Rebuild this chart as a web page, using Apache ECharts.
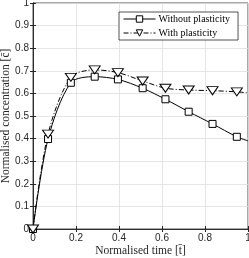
<!DOCTYPE html>
<html><head><meta charset="utf-8">
<script src="https://cdn.jsdelivr.net/npm/echarts@6/dist/echarts.min.js"></script>
<style>html,body{margin:0;padding:0;background:#fff}#c{width:249px;height:258px}</style>
</head><body><div id="c"></div>
<script>
const timeWithout = [0, 0.07, 0.176, 0.287, 0.395, 0.51, 0.616, 0.724, 0.835, 0.948, 1.0];
const concWithout = [0, 0.398, 0.647, 0.674, 0.662, 0.623, 0.574, 0.519, 0.465, 0.408, 0.39];
const timeWith = [0, 0.07, 0.176, 0.287, 0.395, 0.51, 0.616, 0.724, 0.835, 0.948, 1.0];
const concWith = [0, 0.42, 0.671, 0.704, 0.692, 0.655, 0.623, 0.615, 0.612, 0.607, 0.602];
const seriesNames = ['Without plasticity', 'With plasticity'];
const xTicks = [0, 0.2, 0.4, 0.6, 0.8, 1];
const yTicks = [0, 0.1, 0.2, 0.3, 0.4, 0.5, 0.6, 0.7, 0.8, 0.9, 1];

function pts(xs, ys) {
  return xs.map((x, i) => ({ value: [x, ys[i]], symbol: i === xs.length - 1 ? 'none' : undefined }));
}
const axisCol = '#262626';
const chart = echarts.init(document.getElementById('c'));
const labelStyle = { color: axisCol, fontFamily: 'Liberation Sans', fontSize: 10 };
const nameStyle = { fontFamily: 'Liberation Serif', fontSize: 11.5, color: axisCol };
chart.setOption({
  animation: false,
  backgroundColor: '#fff',
  grid: { left: 33, top: 3, width: 215, height: 226, outerBoundsMode: 'none', containLabel: false, show: true, borderColor: axisCol, borderWidth: 0.8 },
  legend: {
    orient: 'vertical', left: 119, top: 12,
    backgroundColor: '#fff', borderColor: axisCol, borderWidth: 0.8,
    padding: [2, 8, 2, 4], itemGap: 4, itemWidth: 32, itemHeight: 8,
    itemStyle: { color: '#fff', borderColor: '#000', borderWidth: 1 },
    lineStyle: { width: 1 },
    textStyle: { fontFamily: 'Liberation Serif', fontSize: 10, color: '#000', padding: [0, 0, 0, -2] },
    data: seriesNames
  },
  xAxis: [{
    type: 'value', min: 0, max: 1, interval: 0.2,
    name: 'Normalised time [t\u0304]', nameLocation: 'middle', nameGap: 15.5, nameMoveOverlap: false,
    nameTextStyle: nameStyle,
    axisLine: { lineStyle: { color: axisCol, width: 0.8 } },
    axisTick: { inside: true, length: 3, lineStyle: { color: axisCol } },
    axisLabel: Object.assign({ margin: 4, formatter: v => xTicks.includes(+v.toFixed(2)) ? String(+v.toFixed(2)) : '' }, labelStyle),
    splitLine: { show: true, lineStyle: { color: '#dedede', width: 0.8 } }
  }, {
    type: 'value', min: 0, max: 1, interval: 0.2, position: 'top',
    axisLine: { lineStyle: { color: axisCol, width: 0.8 } },
    axisTick: { inside: true, length: 3, lineStyle: { color: axisCol } },
    axisLabel: { show: false }, splitLine: { show: false }
  }],
  yAxis: [{
    type: 'value', min: 0, max: 1, interval: 0.1,
    name: 'Normalised concentration [c\u0304]', nameLocation: 'middle', nameGap: 21, nameMoveOverlap: false,
    nameTextStyle: nameStyle,
    axisLine: { show: true, lineStyle: { color: axisCol, width: 0.8 } },
    axisTick: { show: true, inside: true, length: 3, lineStyle: { color: axisCol } },
    axisLabel: Object.assign({ margin: 4, formatter: v => yTicks.includes(+v.toFixed(2)) ? String(+v.toFixed(2)) : '' }, labelStyle),
    splitLine: { show: true, lineStyle: { color: '#dedede', width: 0.8 } }
  }, {
    type: 'value', min: 0, max: 1, interval: 0.1, position: 'right',
    axisLine: { show: true, lineStyle: { color: axisCol, width: 0.8 } },
    axisTick: { show: true, inside: true, length: 3, lineStyle: { color: axisCol } },
    axisLabel: { show: false }, splitLine: { show: false }
  }],
  series: [{
    name: seriesNames[0], type: 'line', smooth: 0.3,
    data: pts(timeWithout, concWithout),
    symbol: 'rect', symbolSize: 7, showAllSymbol: true,
    itemStyle: { color: '#fff', borderColor: '#000', borderWidth: 1 },
    lineStyle: { color: '#000', width: 1 }
  }, {
    name: seriesNames[1], type: 'line', smooth: 0.3,
    data: pts(timeWith, concWith),
    symbol: 'triangle', symbolRotate: 180, symbolSize: [11, 8], showAllSymbol: true,
    itemStyle: { color: '#fff', borderColor: '#000', borderWidth: 1 },
    lineStyle: { color: '#000', width: 1, type: [5, 2, 1, 2] }
  }]
});
</script></body></html>
